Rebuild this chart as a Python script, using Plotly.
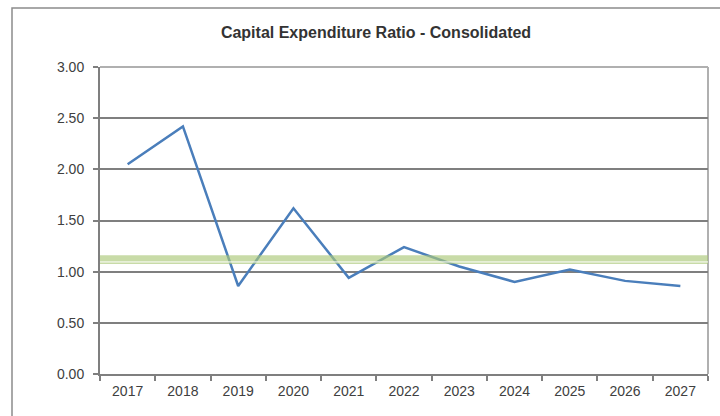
import plotly.graph_objects as go

years = ["2017", "2018", "2019", "2020", "2021", "2022", "2023", "2024", "2025", "2026", "2027"]
ratio = [2.05, 2.42, 0.86, 1.62, 0.94, 1.24, 1.05, 0.90, 1.02, 0.91, 0.86]
y_ticks = [0, 0.5, 1.0, 1.5, 2.0, 2.5, 3.0]
y_tick_labels = ["0.00", "0.50", "1.00", "1.50", "2.00", "2.50", "3.00"]
target_band = (1.075, 1.16)
target_line = 1.095

W, H = 720, 416
L, R, T, B = 100, 12, 67, 42
pw = W - L - R
ph = H - T - B
FONT = "Liberation Sans, Arial, sans-serif"

fig = go.Figure()
fig.add_trace(go.Scatter(
    x=years, y=ratio, mode="lines",
    line=dict(color="#4a7ebb", width=2.5),
    hoverinfo="x+y",
))

# target band, drawn over the series
fig.add_shape(type="rect", xref="paper", yref="y", x0=0, x1=1,
              y0=target_band[0], y1=target_band[1],
              fillcolor="rgba(170,200,120,0.65)", line=dict(width=0), layer="above")
fig.add_shape(type="line", xref="paper", yref="y", x0=0, x1=1,
              y0=target_line, y1=target_line,
              line=dict(color="white", width=1), layer="above")

# outer chart frame
fig.add_shape(type="rect", xref="paper", yref="paper",
              x0=(12 - L) / pw, x1=(W + 5 - L) / pw,
              y0=-(H + 5 - T - ph) / ph, y1=1 + (T - 8) / ph,
              line=dict(color="#8c8c8c", width=1.5), fillcolor="rgba(0,0,0,0)", layer="below")

# plot border on top/right
fig.add_shape(type="line", xref="paper", yref="paper", x0=0, x1=1, y0=1, y1=1,
              line=dict(color="#b0b0b0", width=2), layer="below")
fig.add_shape(type="line", xref="paper", yref="paper", x0=1, x1=1, y0=0, y1=1,
              line=dict(color="#b0b0b0", width=2), layer="below")

fig.update_layout(
    width=W, height=H,
    margin=dict(l=L, r=R, t=T, b=B),
    paper_bgcolor="white", plot_bgcolor="white",
    showlegend=False,
    title=dict(text="<b>Capital Expenditure Ratio - Consolidated</b>",
               x=376 / W, xanchor="center", y=1 - 32 / H, yanchor="middle",
               font=dict(family=FONT, size=16, color="#333333")),
    xaxis=dict(
        type="category", tickson="boundaries", ticks="outside", ticklen=5,
        tickcolor="#7f7f7f", tickwidth=1.5,
        showgrid=False, showline=True, linecolor="#7f7f7f", linewidth=2,
        tickfont=dict(family=FONT, size=14, color="#404040"),
        ticklabelstandoff=3,
        range=[-0.5, 10.5],
    ),
    yaxis=dict(
        range=[0, 3.0], tickvals=y_ticks, ticktext=y_tick_labels,
        ticks="outside", ticklen=5, tickcolor="#7f7f7f", tickwidth=1.5,
        showgrid=True, gridcolor="#7f7f7f", gridwidth=2,
        showline=True, linecolor="#7f7f7f", linewidth=2,
        zeroline=False,
        ticklabelstandoff=6,
        tickfont=dict(family=FONT, size=14, color="#404040"),
    ),
)

fig.write_html("out.html")
